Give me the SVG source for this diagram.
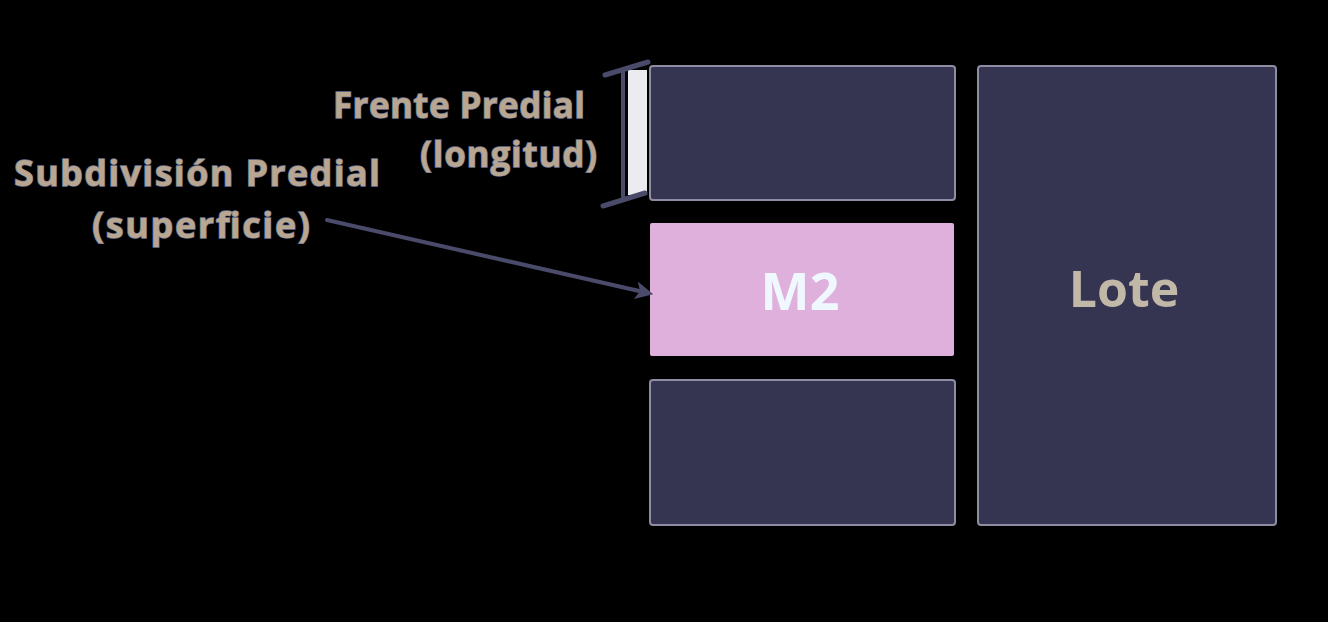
<svg xmlns="http://www.w3.org/2000/svg" width="1328" height="622" viewBox="0 0 1328 622">
<defs>
<style>
.box{fill:#353551;stroke:#8d8ca3;stroke-width:2}
.lbl{font-family:"Open Sans","Liberation Sans",sans-serif;font-weight:bold;fill:#b8a690;stroke:#6f7595;stroke-width:1.4;paint-order:stroke}
.conn{stroke:#4a4a6a;fill:none;stroke-linecap:round}
</style>
<marker id="ah" viewBox="0 0 10 10" refX="7" refY="5" markerWidth="4.5" markerHeight="4.5" orient="auto">
<path d="M0,0 L10,5 L0,10 L2.5,5 Z" fill="#4a4a6a"/>
</marker>
</defs>
<rect width="1328" height="622" fill="#000"/>
<g id="lote"><rect class="box" x="978" y="66" width="298" height="459" rx="3"/>
<text x="1124" y="307" text-anchor="middle" font-family="Open Sans,Liberation Sans,sans-serif" font-weight="bold" font-size="50" fill="#c2b8a8">Lote</text></g>
<g id="top"><rect class="box" x="650" y="66" width="305" height="134" rx="3"/></g>
<g id="m2"><rect x="650" y="223" width="304" height="133" rx="2" fill="#dfb0dc"/>
<text x="800" y="310" text-anchor="middle" font-family="Open Sans,Liberation Sans,sans-serif" font-weight="bold" font-size="52" fill="#f0f8ff">M2</text></g>
<g id="bottom"><rect class="box" x="650" y="380" width="305" height="145" rx="3"/></g>
<g id="frente-label">
<text class="lbl" x="585" y="118" text-anchor="end" font-size="35" textLength="252">Frente Predial</text>
<text class="lbl" x="597" y="167" text-anchor="end" font-size="35" textLength="177">(longitud)</text></g>
<g id="subdiv-label">
<text class="lbl" x="14" y="186" font-size="36" textLength="366">Subdivisión Predial</text>
<text class="lbl" x="310" y="238" text-anchor="end" font-size="36" textLength="218">(superficie)</text></g>
<g id="connectors">
<rect x="628" y="70" width="19" height="125" fill="#ecebf2"/>
<path class="conn" d="M623,72 V198" stroke-width="4"/>
<path class="conn" d="M605,75 L648,62" stroke-width="5"/>
<path class="conn" d="M603,206 L645,193" stroke-width="5"/>
<path class="conn" d="M327,220 L648,293" stroke-width="4" marker-end="url(#ah)"/>
</g>
</svg>
